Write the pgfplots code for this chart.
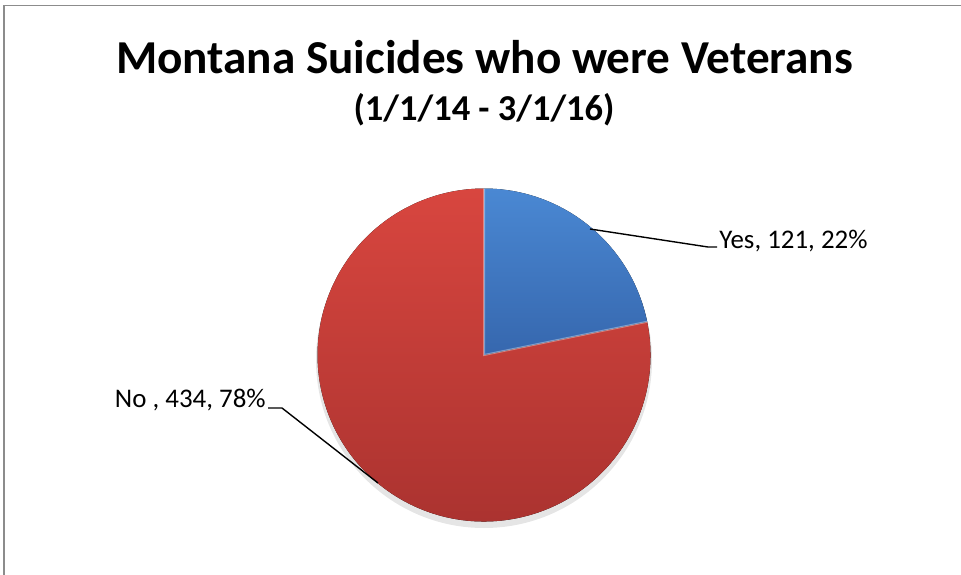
\documentclass[border=0pt]{standalone}
\usepackage{pgfplots}
\pgfplotsset{compat=1.18}
\usepackage{pgfplotstable}
\usepackage{fontspec}
\setmainfont{Carlito}
\pgfplotstableread{
label value
Yes 121
No 434
}\piedata
\definecolor{blueTop}{HTML}{4A88D3}
\definecolor{blueBot}{HTML}{3667AE}
\definecolor{redTop}{HTML}{D8463F}
\definecolor{redBot}{HTML}{A9322F}
\definecolor{frame}{HTML}{8C8C8C}
\begin{document}
\begin{tikzpicture}
\pgfplotstablegetelem{0}{value}\of\piedata \edef\yesval{\pgfplotsretval}
\pgfplotstablegetelem{1}{value}\of\piedata \edef\noval{\pgfplotsretval}
\pgfmathsetmacro\yesfrac{\yesval/(\yesval+\noval)}
\pgfmathsetmacro\yesang{360*\yesfrac}
\pgfmathsetmacro\yesend{90-\yesang}
\def\R{83.25bp}
\begin{axis}[scale only axis, width=480.5bp, height=287.5bp,
  xmin=0, xmax=961, ymin=0, ymax=575, y dir=reverse, hide axis, clip=false]
% frame
\draw[frame, line width=0.7pt] (axis cs:4,575) -- (axis cs:4,5.5) -- (axis cs:961,5.5);
% title
\node[anchor=base, font=\fontsize{23.7}{28}\selectfont\bfseries] at (axis cs:484.5,74) {Montana Suicides who were Veterans};
\node[anchor=base, font=\fontsize{18.3}{22}\selectfont\bfseries] at (axis cs:484,121) {(1/1/14 - 3/1/16)};
% shadow
\fill[black, opacity=0.10] (axis cs:484,360) circle[radius=84bp];
% wedges
\fill[shading=axis, top color=redTop, bottom color=redBot] (axis cs:484,355) -- ++(\yesend:\R) arc[start angle=\yesend, end angle=-270, radius=\R] -- cycle;
\fill[shading=axis, top color=blueTop, bottom color=blueBot] (axis cs:484,355) -- ++(90:\R) arc[start angle=90, end angle=\yesend, radius=\R] -- cycle;
\draw[white, opacity=0.35, line width=1pt] (axis cs:484,355) ++(\yesend:\R) -- (axis cs:484,355) -- ++(90:\R);
% leader lines
\draw[black, line width=0.7pt] (axis cs:590,229) -- (axis cs:708,247) -- (axis cs:717,247);
\draw[black, line width=0.7pt] (axis cs:268,408) -- (axis cs:282,408) -- (axis cs:378,483);
% labels
\node[anchor=base west, inner sep=0pt, font=\fontsize{13.5}{16}\selectfont] at (axis cs:719,248) {Yes, 121, 22\%};
\node[anchor=base east, inner sep=0pt, font=\fontsize{13.5}{16}\selectfont] at (axis cs:266,407) {No , 434, 78\%};
\end{axis}
\pgfresetboundingbox
\path (current axis.south west) rectangle (current axis.north east);
\end{tikzpicture}
\end{document}
